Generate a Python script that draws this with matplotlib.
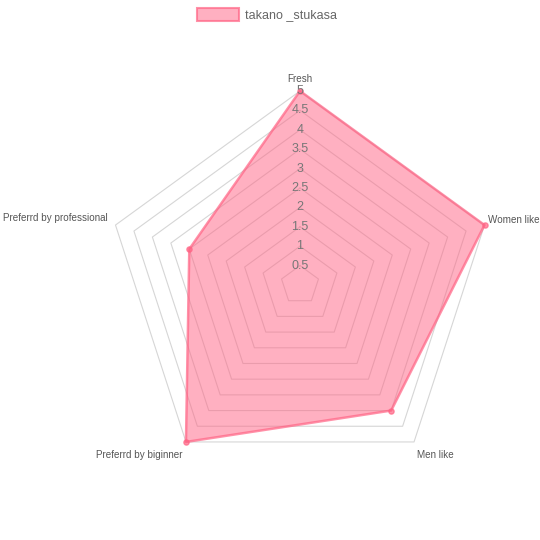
import numpy as np
import matplotlib.pyplot as plt

# データ
labels = ["Fresh", "Women like", "Men like", "Preferrd by biginner", "Preferrd by professional"]
values = [5, 5, 4, 5, 3]
ticks = [0.5, 1, 1.5, 2, 2.5, 3, 3.5, 4, 4.5, 5]
tick_labels = ["0.5", "1", "1.5", "2", "2.5", "3", "3.5", "4", "4.5", "5"]
series_name = "takano _stukasa"

plt.rcParams["font.family"] = ["Liberation Sans", "DejaVu Sans"]

# 画像座標 (px) で描く
cx, cy = 300, 285
R = 194
vmax = 5
n = len(labels)
ang = np.arange(n) * 2 * np.pi / n


def pt(v, a):
    r = R * v / vmax
    return cx + r * np.sin(a), cy - r * np.cos(a)


fig = plt.figure(figsize=(5.4, 5.4), dpi=100)
ax = fig.add_axes([0, 0, 1, 1])
ax.set_xlim(0, 540)
ax.set_ylim(540, 0)
ax.axis("off")

# グリッド
for t in ticks:
    xs, ys = pt(t, np.append(ang, ang[0]))
    ax.plot(xs, ys, color="#d6d6d6", lw=0.8, zorder=1)

# データ
pink = (1, 99 / 255, 132 / 255)
vals = np.array(values + values[:1], dtype=float)
xs, ys = pt(vals, np.append(ang, ang[0]))
ax.fill(xs, ys, color=pink + (0.5,), lw=0, zorder=2)
ax.plot(xs, ys, color=pink + (0.7,), lw=1.8, zorder=3)
ax.scatter(xs[:-1], ys[:-1], s=14, color=pink + (0.7,), zorder=4)

# 目盛ラベル
for t, s in zip(ticks, tick_labels):
    x, y = pt(t, 0)
    ax.text(x, y, s, ha="center", va="center", fontsize=9, color="#777777", zorder=5)

# 軸ラベル
lx = [(300, 79, "center", "center"), (488, 220, "left", "center"),
      (417, 455, "left", "center"), (182, 455, "right", "center"),
      (108, 218, "right", "center")]
for (x, y, ha, va), s in zip(lx, labels):
    ax.text(x, y, s, ha=ha, va=va, fontsize=7.1, color="#555555")

# 凡例
ax.add_patch(plt.Rectangle((197, 8), 42, 13, facecolor=pink + (0.5,),
                           edgecolor=pink + (0.7,), lw=1.5))
ax.text(245, 15, series_name, ha="left", va="center", fontsize=9, color="#666666")

plt.savefig("out.png", dpi=100)
